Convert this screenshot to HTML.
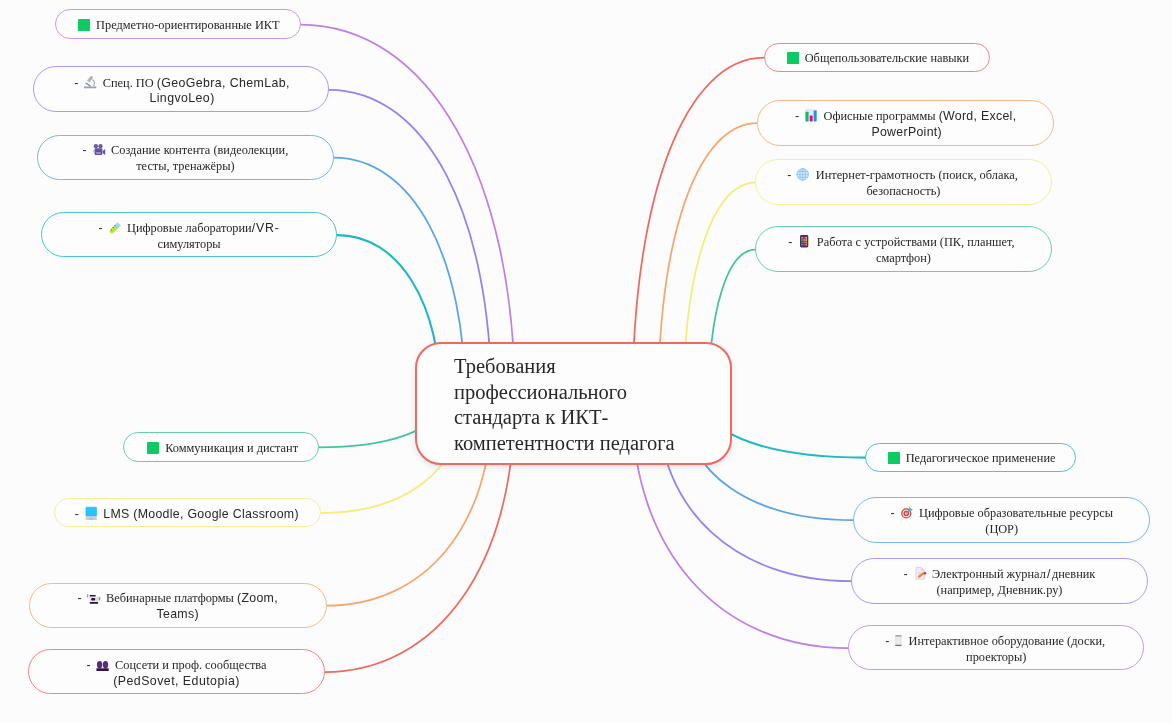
<!DOCTYPE html>
<html lang="ru"><head><meta charset="utf-8"><title>Mind map</title>
<style>
html,body{margin:0;padding:0}
body{width:1172px;height:723px;overflow:hidden;background:#fcfcfc;position:relative;font-family:"Liberation Serif",serif;color:#27272a}
svg.lines{position:absolute;left:0;top:0}
svg.lines path{fill:none;stroke-linecap:round}
.nd{position:absolute;box-sizing:border-box;border:1.15px solid;border-radius:23.5px;background:#fdfdfd;font-size:12.35px;line-height:15.3px;white-space:nowrap}
.ln{will-change:transform;position:absolute;left:0;right:0;display:flex;justify-content:center;align-items:center;height:15.3px}
.ln i{font-style:normal;font-family:"Liberation Sans",sans-serif;letter-spacing:.3px}
.ln i.d{margin-right:6px;letter-spacing:0}
.sq{display:block;width:12px;height:12.2px;background:#0ccb63;margin-right:6px;border-radius:.6px;position:relative;top:-.8px}
.ic{display:block;flex:none;margin-right:6px;overflow:visible;position:relative;top:-1.4px}
.ic.nar{margin-right:5px}
#root{position:absolute;left:415.4px;top:342px;width:316.9px;height:122.5px;box-sizing:border-box;border:2.8px solid #eb6a62;border-radius:26px;background:#fdfdfd;box-shadow:0 2px 6px rgba(0,0,0,.11);font-size:20.5px;line-height:25.7px;color:#27272a;padding:10px 0 0 36.7px;white-space:nowrap}
</style></head><body>
<svg class="lines" width="1172" height="723" viewBox="0 0 1172 723">
<path d="M300.0 24.5C429.1 24.5 515.1 175.9 515.1 403.0" stroke="#c07fe2" stroke-width="1.75"/>
<path d="M329.0 89.8C426.5 89.8 491.5 215.1 491.5 403.0" stroke="#9085ee" stroke-width="1.75"/>
<path d="M333.5 157.7C412.7 157.7 465.5 255.8 465.5 403.0" stroke="#5ba4e6" stroke-width="1.75"/>
<path d="M337.0 235.1C399.1 235.1 440.5 302.3 440.5 403.0" stroke="#1fb8c3" stroke-width="2.1"/>
<path d="M318.0 447.4C390.5 447.4 438.9 429.6 438.9 403.0" stroke="#42c597" stroke-width="1.75"/>
<path d="M320.7 513.0C405.7 513.0 462.4 469.0 462.4 403.0" stroke="#f6ec7c" stroke-width="1.75"/>
<path d="M326.3 605.7C425.8 605.7 492.1 524.6 492.1 403.0" stroke="#f5a76f" stroke-width="1.75"/>
<path d="M324.1 672.1C438.3 672.1 514.4 564.5 514.4 403.0" stroke="#ee6a5e" stroke-width="1.75"/>
<path d="M764.3 57.7C685.2 57.7 632.4 195.8 632.4 403.0" stroke="#ee6a5e" stroke-width="1.75"/>
<path d="M757.3 123.2C697.9 123.2 658.3 235.1 658.3 403.0" stroke="#f5a76f" stroke-width="1.75"/>
<path d="M755.4 182.6C712.3 182.6 683.5 270.7 683.5 403.0" stroke="#f6ec7c" stroke-width="1.75"/>
<path d="M755.4 249.6C727.3 249.6 708.5 311.0 708.5 403.0" stroke="#42c597" stroke-width="1.75"/>
<path d="M865.4 457.6C770.7 457.6 707.6 435.7 707.6 403.0" stroke="#1fb8c3" stroke-width="2.1"/>
<path d="M853.7 520.2C751.7 520.2 683.7 473.3 683.7 403.0" stroke="#5ba4e6" stroke-width="1.75"/>
<path d="M851.5 581.2C735.5 581.2 658.1 509.9 658.1 403.0" stroke="#9085ee" stroke-width="1.75"/>
<path d="M848.2 648.1C718.4 648.1 631.9 550.1 631.9 403.0" stroke="#c07fe2" stroke-width="1.75"/>
</svg>
<div class="nd" id="n1" style="left:54.9px;top:9.2px;width:245.7px;height:29.8px;border-color:#cc98e7"><div class="ln" style="top:7.92px;left:0.8px;right:-0.8px"><b class="sq"></b><span>Предметно-ориентированные ИКТ</span></div></div>
<div class="nd" id="n2" style="left:33.4px;top:66.4px;width:296.1px;height:45.9px;border-color:#a59cf0"><div class="ln" style="top:8.62px;left:0.9px;right:-0.9px"><i class="d">-</i><svg class="ic" width="12.4" height="12.4" viewBox="0 0 12.4 12.4"><rect x="0" y="10.5" width="12.3" height="1.8" fill="#9da1a7"/><path d="M1.6 6.7L6.6 10.3" stroke="#6683d9" stroke-width="1.15"/><path d="M4.1 5.5L7.7 1.2" stroke="#b3b5ba" stroke-width="3"/><circle cx="7.9" cy=".9" r=".6" fill="#555"/><path d="M8.5 3.6C10.8 4.6 10.9 8.2 9.6 10.4" fill="none" stroke="#b0b3c0" stroke-width="1.25"/></svg><span>Спец. ПО <i style="letter-spacing:.4px">(GeoGebra, ChemLab,</i></span></div><div class="ln" style="top:23.62px;left:0.3px;right:-0.3px"><span><i style="letter-spacing:.42px">LingvoLeo)</i></span></div></div>
<div class="nd" id="n3" style="left:37.2px;top:134.5px;width:296.8px;height:45.5px;border-color:#7bb5ea"><div class="ln" style="top:7.37px;left:0.0px;right:-0.0px"><i class="d">-</i><svg class="ic" width="12.4" height="12.4" viewBox="0 0 12.4 12.4"><circle cx="2.9" cy="3.2" r="2.1" fill="#6350a0"/><circle cx="7.5" cy="3.2" r="2.1" fill="#6350a0"/><circle cx="2.9" cy="3.2" r=".6" fill="#8f82c4"/><circle cx="7.5" cy="3.2" r=".6" fill="#8f82c4"/><rect x="1.6" y="5.2" width="7.7" height="6.7" rx="1" fill="#6350a0"/><path d="M9.6 8.1L12.2 6.1V11.9L9.6 10.1z" fill="#6350a0"/><rect x=".2" y="7.3" width="1.4" height="2.1" fill="#b5b0c8"/><rect x="3.1" y="9.3" width="4.7" height="1.5" fill="#aaa2d2"/></svg><span>Создание контента (видеолекции,</span></div><div class="ln" style="top:23.17px;left:0px;right:0px"><span>тесты, тренажёры)</span></div></div>
<div class="nd" id="n4" style="left:41.4px;top:211.9px;width:296.1px;height:45.5px;border-color:#4bc5ce"><div class="ln" style="top:8.22px;left:0.1px;right:-0.1px"><i class="d">-</i><svg class="ic" width="12.4" height="12.4" viewBox="0 0 12.4 12.4"><path d="M2.9 10.3L8.6 4.6" stroke="#b3e63f" stroke-width="4.4" stroke-linecap="round"/><path d="M5.8 4.3L8.4 1.2L12.1 4.6L8.9 7.4z" fill="#a8d8f5"/><circle cx="2.3" cy="8.7" r=".5" fill="#333"/><circle cx="4.2" cy="6.6" r=".5" fill="#333"/><circle cx="6" cy="4.6" r=".5" fill="#333"/></svg><span>Цифровые лаборатории<i style="letter-spacing:.8px">/VR-</i></span></div><div class="ln" style="top:23.92px;left:0px;right:0px"><span>симуляторы</span></div></div>
<div class="nd" id="n5" style="left:123.4px;top:432.0px;width:195.2px;height:29.8px;border-color:#67d0ab"><div class="ln" style="top:8.12px;left:1.6px;right:-1.6px"><b class="sq"></b><span>Коммуникация и дистант</span></div></div>
<div class="nd" id="n6" style="left:53.6px;top:497.7px;width:267.6px;height:29.8px;border-color:#f7ef95"><div class="ln" style="top:8.13px;left:-0.2px;right:0.2px"><i class="d">-</i><svg class="ic" width="12.4" height="12.4" viewBox="0 0 12.4 12.4"><rect x="1" y=".2" width="10.6" height="9" rx=".6" fill="#27c3fb" stroke="#3aa6e6" stroke-width=".6"/><path d="M1.2 9.5H11.4L12.1 12.9H.3z" fill="#cfcfcf"/><rect x="4.2" y="11.5" width="4" height=".8" fill="#a5a5a5"/></svg><span><i>LMS (Moodle, Google Classroom)</i></span></div></div>
<div class="nd" id="n7" style="left:29.4px;top:582.7px;width:297.4px;height:45.1px;border-color:#f6b88b"><div class="ln" style="top:7.43px;left:-0.6px;right:0.6px"><i class="d">-</i><svg class="ic" width="12.4" height="12.4" viewBox="0 0 12.4 12.4"><g transform="translate(-.8 3.1)"><rect x="0" y="0" width="1" height="3.5" fill="#8d8796"/><rect x="2.5" y="1" width="6" height="1.5" rx=".5" fill="#2a1538"/><rect x="2.5" y="3" width="8.5" height="4.6" fill="#e3dcee"/><rect x="4" y="4" width="4" height="2.5" rx="1" fill="#2a1538"/><rect x="11.5" y="3" width="1.5" height="3.2" fill="#8d8796"/><rect x="2.5" y="8" width="8.5" height="1.7" rx=".6" fill="#2a1538"/></g></svg><span>Вебинарные платформы <i>(Zoom,</i></span></div><div class="ln" style="top:23.13px;left:0px;right:0px"><span><i>Teams)</i></span></div></div>
<div class="nd" id="n8" style="left:27.5px;top:649.0px;width:297.1px;height:45.4px;border-color:#f0877d"><div class="ln" style="top:8.12px;left:0.5px;right:-0.5px"><i class="d">-</i><svg class="ic" width="12.4" height="12.4" viewBox="0 0 12.4 12.4"><g transform="translate(-.6 3.1)"><ellipse cx="3.2" cy="3.7" rx="2.7" ry="3.7" fill="#5a2d7a"/><ellipse cx="9.1" cy="3.7" rx="2.7" ry="3.7" fill="#5a2d7a"/><rect x="0" y="7.2" width="12.3" height="2.7" fill="#2f1248"/></g></svg><span>Соцсети и проф. сообщества</span></div><div class="ln" style="top:23.83px;left:0.4px;right:-0.4px"><span><i style="letter-spacing:.47px">(PedSovet, Edutopia)</i></span></div></div>
<div class="nd" id="r1" style="left:763.7px;top:42.5px;width:225.9px;height:29.7px;border-color:#f0877d"><div class="ln" style="top:7.38px;left:1.2px;right:-1.2px"><b class="sq"></b><span>Общепользовательские навыки</span></div></div>
<div class="nd" id="r2" style="left:756.7px;top:100.0px;width:297.4px;height:45.6px;border-color:#f6b88b"><div class="ln" style="top:7.83px;left:0.4px;right:-0.4px"><i class="d">-</i><svg class="ic" width="12.4" height="12.4" viewBox="0 0 12.4 12.4"><rect x="0" y="0" width="12.2" height="12.4" rx="1" fill="#ebe5f4"/><rect x=".5" y="2.7" width="3.1" height="9.7" rx=".6" fill="#18b866"/><rect x="4.8" y="6.6" width="2.8" height="5.8" rx=".6" fill="#d60c80"/><rect x="8.7" y="1.6" width="2.9" height="10.8" rx=".6" fill="#1a98dc"/></svg><span>Офисные программы <i>(Word, Excel,</i></span></div><div class="ln" style="top:23.62px;left:0.9px;right:-0.9px"><span><i>PowerPoint)</i></span></div></div>
<div class="nd" id="r3" style="left:754.8px;top:159.2px;width:297.0px;height:45.8px;border-color:#f7ef95"><div class="ln" style="top:7.62px;left:-1.0px;right:1.0px"><i class="d">-</i><svg class="ic" width="12.4" height="12.4" viewBox="0 0 12.4 12.4"><circle cx="5.7" cy="6.4" r="5.8" fill="#d2eafc" stroke="#86c1f3" stroke-width=".8"/><g transform="translate(-.5 .2)" fill="none" stroke="#86c1f3" stroke-width=".75"><ellipse cx="6.2" cy="6.2" rx="2.9" ry="5.8"/><path d="M.4 6.2H12M6.2 .4V12M1.3 3.3H11.1M1.3 9.1H11.1"/></g></svg><span>Интернет-грамотность (поиск, облака,</span></div><div class="ln" style="top:23.42px;left:0px;right:0px"><span>безопасность)</span></div></div>
<div class="nd" id="r4" style="left:754.8px;top:226.3px;width:297.0px;height:45.7px;border-color:#67d0ab"><div class="ln" style="top:7.52px;left:-1.5px;right:1.5px"><i class="d">-</i><svg class="ic" width="12.4" height="12.4" viewBox="0 0 12.4 12.4"><rect x="2" y="0" width="8.3" height="12.4" rx="1.4" fill="#4b2d6b"/><g><rect x="3.2" y="1.9" width="1.6" height="1.7" fill="#f39a2b"/><rect x="5.3" y="1.9" width="1.6" height="1.7" fill="#e8452f"/><rect x="7.4" y="1.9" width="1.6" height="1.7" fill="#f6c933"/><rect x="3.2" y="4.2" width="1.6" height="1.7" fill="#39a5e6"/><rect x="5.3" y="4.2" width="1.6" height="1.7" fill="#f39a2b"/><rect x="7.4" y="4.2" width="1.6" height="1.7" fill="#f6c933"/><rect x="3.2" y="6.5" width="1.6" height="1.7" fill="#e8452f"/><rect x="5.3" y="6.5" width="1.6" height="1.7" fill="#39a5e6"/><rect x="7.4" y="6.5" width="1.6" height="1.7" fill="#f39a2b"/><rect x="3.2" y="8.8" width="1.6" height="1.7" fill="#39a5e6"/><rect x="5.3" y="8.8" width="1.6" height="1.7" fill="#e8452f"/><rect x="7.4" y="8.8" width="1.6" height="1.7" fill="#f39a2b"/></g></svg><span>Работа с устройствами (ПК, планшет,</span></div><div class="ln" style="top:23.52px;left:0px;right:0px"><span>смартфон)</span></div></div>
<div class="nd" id="r5" style="left:864.8px;top:442.5px;width:211.2px;height:29.4px;border-color:#4bc5ce"><div class="ln" style="top:7.38px;left:1.3px;right:-1.3px"><b class="sq"></b><span>Педагогическое применение</span></div></div>
<div class="nd" id="r6" style="left:853.1px;top:496.8px;width:297.4px;height:46.0px;border-color:#7bb5ea"><div class="ln" style="top:8.12px;left:0px;right:0px"><i class="d">-</i><svg class="ic" width="12.4" height="12.4" viewBox="0 0 12.4 12.4"><circle cx="5.3" cy="7.4" r="5.1" fill="#dc3a32"/><circle cx="5.3" cy="7.4" r="3.9" fill="#fbdcd9"/><circle cx="5.3" cy="7.4" r="2.7" fill="#dc3a32"/><circle cx="5.3" cy="7.4" r="1.4" fill="#f7c8c4"/><path d="M5.5 7.2L9.6 3.1" stroke="#4a9fe0" stroke-width="1.5"/><path d="M7.9 2.3L8.7 .8L9.9 2.4L11.9 3.4L10.7 4.7L9.1 4.2z" fill="#4fb3f0"/></svg><span>Цифровые образовательные ресурсы</span></div><div class="ln" style="top:23.72px;left:0px;right:0px"><span>(ЦОР)</span></div></div>
<div class="nd" id="r7" style="left:850.9px;top:558.0px;width:296.9px;height:45.5px;border-color:#a59cf0"><div class="ln" style="top:8.12px;left:-0.3px;right:0.3px"><i class="d">-</i><svg class="ic" width="12.4" height="12.4" viewBox="0 0 12.4 12.4"><g transform="translate(1.6 0)"><path d="M.3 .5H5.7L9 3.8V12.3H.3z" fill="#f1ecf8" stroke="#cbc5dd" stroke-width=".6"/><path d="M5.7 .5V3.8H9z" fill="#d6d0e6"/><rect x="2" y="5.6" width="3.4" height=".8" fill="#c5bfd9"/><path d="M2.7 10.2L8.8 5.6" stroke="#f08b2a" stroke-width="2.4"/><circle cx="9.5" cy="6.2" r="1.2" fill="#d8255a"/></g></svg><span>Электронный журнал<i style="padding:0 1.2px">/</i>дневник</span></div><div class="ln" style="top:23.83px;left:-0.1px;right:0.1px"><span>(например, Дневник.ру)</span></div></div>
<div class="nd" id="r8" style="left:847.6px;top:624.9px;width:296.5px;height:45.6px;border-color:#cc98e7"><div class="ln" style="top:8.23px;left:-0.7px;right:0.7px"><i class="d">-</i><svg class="ic nar" width="8" height="12.4" viewBox="0 0 8 12.4"><g transform="translate(.3 1.2)"><rect x="0" y="0" width="6.2" height="10.9" rx=".6" fill="#dadada"/><rect x="0" y="0" width="6.2" height="1.2" fill="#9a9a9a"/><rect x="0" y="9.6" width="6.2" height="1.3" fill="#767676"/><rect x="1" y="1.8" width="4.2" height="7.2" fill="#eeeeee"/></g></svg><span>Интерактивное оборудование (доски,</span></div><div class="ln" style="top:23.93px;left:0px;right:0px"><span>проекторы)</span></div></div>
<div id="root"><div style="will-change:transform">Требования<br>профессионального<br>стандарта к ИКТ-<br>компетентности педагога</div></div>
</body></html>
